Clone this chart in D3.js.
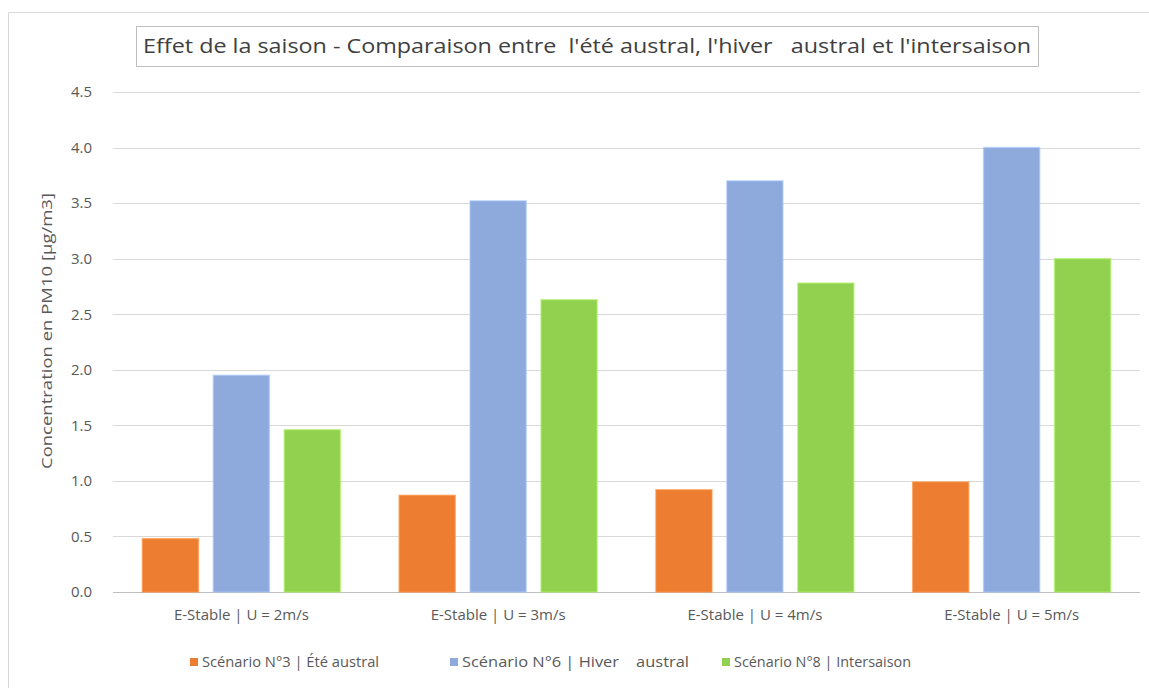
<!DOCTYPE html>
<html>
<head>
<meta charset="utf-8">
<script src="https://cdn.jsdelivr.net/npm/d3@7"></script>
<style>
  body { margin: 0; background: #fff; }
  text { font-family: "Open Sans", "DejaVu Sans", sans-serif; fill: #595959; white-space: pre; }
</style>
</head>
<body>
<div id="chart"></div>
<script>
const categories = ["E-Stable | U = 2m/s", "E-Stable | U = 3m/s", "E-Stable | U = 4m/s", "E-Stable | U = 5m/s"];
const seriesNames = ["Scénario N°3 | Été austral", "Scénario N°6 | Hiver    austral", "Scénario N°8 | Intersaison"];
const ete = [0.48, 0.87, 0.92, 0.99];
const hiver = [1.95, 3.52, 3.70, 4.00];
const intersaison = [1.46, 2.63, 2.78, 3.00];
const yTicks = [0, 0.5, 1, 1.5, 2, 2.5, 3, 3.5, 4, 4.5];
const colors = ["#ED7D31", "#8EA9DB", "#92D050"];
const titleText = "Effet de la saison - Comparaison entre  l'été austral, l'hiver   austral et l'intersaison";

const W = 1149, H = 688;
const margin = { top: 92, right: 9, bottom: 96, left: 113 };
const width = W - margin.left - margin.right;
const height = H - margin.top - margin.bottom;

const svg = d3.select("#chart").append("svg")
  .attr("width", W)
  .attr("height", H);

// outer chart frame (right/bottom cut off in the original)
svg.append("path")
  .attr("d", `M8.5,${H} V12.5 H${W}`)
  .attr("fill", "none")
  .attr("stroke", "#d9d9d9");

// title box
svg.append("rect")
  .attr("x", 136.5).attr("y", 26.5)
  .attr("width", 902).attr("height", 40)
  .attr("fill", "#fff")
  .attr("stroke", "#bfbfbf");
svg.append("text")
  .attr("x", 143).attr("y", 53)
  .attr("font-size", 20)
  .attr("textLength", 888)
  .attr("lengthAdjust", "spacingAndGlyphs")
  .style("fill", "#404040")
  .text(titleText);

const g = svg.append("g")
  .attr("transform", `translate(${margin.left},${margin.top})`);

const y = d3.scaleLinear().domain([0, 4.5]).range([height, 0]);
const x0 = d3.scaleBand().domain(categories).range([0, width]).paddingInner(0.229).paddingOuter(0.1145);
const x1 = d3.scaleBand().domain(d3.range(3)).range([0, x0.bandwidth()]).paddingInner(0.21);

// gridlines
g.append("g")
  .selectAll("line")
  .data(yTicks)
  .join("line")
    .attr("x1", 0).attr("x2", width)
    .attr("y1", d => Math.round(y(d)) + 0.5)
    .attr("y2", d => Math.round(y(d)) + 0.5)
    .attr("stroke", d => d === 0 ? "#bfbfbf" : "#d9d9d9");

// y axis labels
const yAxis = g.append("g")
  .call(d3.axisLeft(y).tickValues(yTicks).tickFormat(d3.format(".1f")).tickSize(0).tickPadding(21));
yAxis.select(".domain").remove();
yAxis.selectAll("text").attr("font-size", 15).style("fill", "#595959");

// x axis labels
const xAxis = g.append("g")
  .attr("transform", `translate(0,${height})`)
  .call(d3.axisBottom(x0).tickSize(0).tickPadding(17));
xAxis.select(".domain").remove();
xAxis.selectAll("text").attr("font-size", 15).style("fill", "#595959");

// y axis title
svg.append("text")
  .attr("transform", `translate(52,331) rotate(-90)`)
  .attr("text-anchor", "middle")
  .attr("font-size", 15)
  .attr("textLength", 276)
  .attr("lengthAdjust", "spacingAndGlyphs")
  .text("Concentration en PM10 [µg/m3]");

// bars
const seriesData = [ete, hiver, intersaison];
const groups = g.append("g")
  .selectAll("g")
  .data(categories)
  .join("g")
    .attr("transform", d => `translate(${x0(d)},0)`);

groups.selectAll("rect")
  .data((d, i) => seriesData.map((s, k) => ({ k, v: s[i] })))
  .join("rect")
    .attr("x", d => x1(d.k))
    .attr("y", d => y(d.v))
    .attr("width", x1.bandwidth())
    .attr("height", d => height - y(d.v))
    .attr("fill", d => colors[d.k])
    .attr("stroke", d => d3.color(colors[d.k]).brighter(0.4))
    .attr("stroke-opacity", 0.6)
    .attr("stroke-width", 1.5);

// legend
const legendX = [190, 450, 722];
const legend = svg.append("g")
  .selectAll("g")
  .data(seriesNames)
  .join("g")
    .attr("transform", (d, i) => `translate(${legendX[i]},662)`);
legend.append("rect")
  .attr("x", 0).attr("y", -4)
  .attr("width", 8).attr("height", 8)
  .attr("fill", (d, i) => colors[i]);
legend.append("text")
  .attr("x", 12).attr("y", 5)
  .attr("font-size", 14)
  .attr("textLength", (d, i) => [177, 227, 177][i])
  .attr("lengthAdjust", "spacingAndGlyphs")
  .text(d => d);
</script>
</body>
</html>
